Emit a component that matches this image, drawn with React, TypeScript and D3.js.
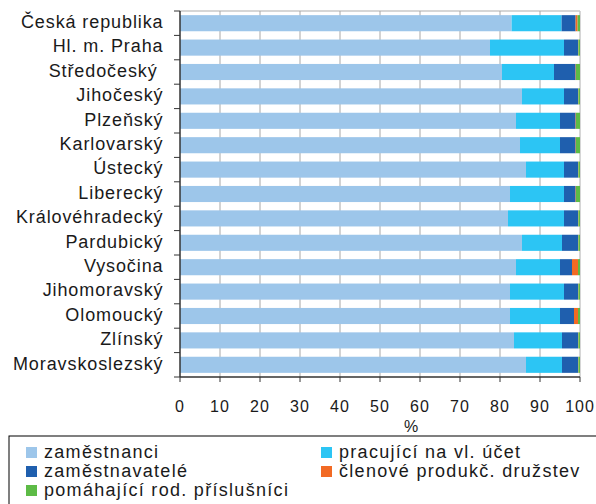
import React from "react";
import * as d3 from "d3";

const categories = [
  "Česká republika", "Hl. m. Praha", "Středočeský ", "Jihočeský", "Plzeňský",
  "Karlovarský", "Ústecký", "Liberecký", "Královéhradecký", "Pardubický",
  "Vysočina", "Jihomoravský", "Olomoucký", "Zlínský", "Moravskoslezský",
];
const seriesNames = [
  "zaměstnanci", "pracující na vl. účet", "zaměstnavatelé",
  "členové produkč. družstev", "pomáhající rod. příslušníci",
];
const zamestnanci = [82.9, 77.5, 80.5, 85.5, 84.0, 85.0, 86.5, 82.5, 82.0, 85.5, 84.0, 82.5, 82.5, 83.5, 86.5];
const pracujici = [12.5, 18.5, 13.0, 10.5, 11.0, 10.0, 9.5, 13.5, 14.0, 10.0, 11.0, 13.5, 12.5, 12.0, 9.0];
const zamestnavatele = [3.5, 3.5, 5.4, 3.5, 3.9, 3.9, 3.5, 2.9, 3.5, 4.0, 3.0, 3.5, 3.5, 4.0, 4.0];
const clenove = [0.5, 0.1, 0.1, 0.1, 0.1, 0.1, 0.1, 0.1, 0.1, 0.1, 1.5, 0.1, 1.0, 0.1, 0.1];
const pomahajici = [0.6, 0.4, 1.0, 0.4, 1.0, 1.0, 0.4, 1.0, 0.4, 0.4, 0.5, 0.4, 0.5, 0.4, 0.4];
const colors = ["#9DC6EA", "#2CC5F4", "#1F5FAE", "#F26A24", "#5DBB46"];
const xTicks = [0, 10, 20, 30, 40, 50, 60, 70, 80, 90, 100];

const FONT = "'Liberation Sans', Arial, Helvetica, sans-serif";

export default function App() {
  const W = 596, H = 504;
  const left = 180, right = 580, top = 11, bottom = 377;
  const x = d3.scaleLinear().domain([0, 100]).range([left, right]);
  const y = d3.scaleBand<string>().domain(categories).range([top, bottom]).paddingInner(0.34).paddingOuter(0.17);
  const yb = d3.scaleBand<string>().domain(categories).range([top, bottom]);
  const series = [zamestnanci, pracujici, zamestnavatele, clenove, pomahajici];
  const rows = categories.map((c, i) => {
    const o: any = { cat: c };
    seriesNames.forEach((s, j) => (o[s] = series[j][i]));
    return o;
  });
  const stacked = d3.stack<any>().keys(seriesNames)(rows);

  const legendItems = [
    { i: 0, x: 26, y: 447 },
    { i: 1, x: 321, y: 447 },
    { i: 2, x: 26, y: 466 },
    { i: 3, x: 321, y: 466 },
    { i: 4, x: 26, y: 485 },
  ];

  return (
    <svg width={W} height={H} style={{ position: "absolute", left: 0, top: 0, background: "#fff" }} fontFamily={FONT}>
      <rect x={0} y={0} width={W} height={H} fill="#fff" />
      {/* frame */}
      <line x1={left} x2={right} y1={top} y2={top} stroke="#C8C8C8" strokeWidth={1.5} />
      <line x1={right} x2={right} y1={top} y2={bottom} stroke="#C8C8C8" strokeWidth={1.5} />
      {/* grid */}
      {xTicks.slice(1, -1).map((t) => (
        <line key={t} x1={x(t)} x2={x(t)} y1={top} y2={bottom} stroke="#A8A8A8" strokeWidth={1} />
      ))}
      {/* bars */}
      {stacked.map((s, j) => (
        <g key={s.key} fill={colors[j]}>
          {s.map((d, i) => (
            <rect key={i} x={x(d[0])} y={y(categories[i])} width={Math.max(0, x(d[1]) - x(d[0]))} height={y.bandwidth()} />
          ))}
        </g>
      ))}
      {/* left axis */}
      <line x1={left} x2={left} y1={top} y2={bottom} stroke="#333" strokeWidth={1.5} />
      {categories.map((c, i) => (
        <line key={"t" + i} x1={left - 6} x2={left} y1={yb(c)} y2={yb(c)} stroke="#333" strokeWidth={1} />
      ))}
      <line x1={left - 6} x2={left} y1={bottom} y2={bottom} stroke="#333" strokeWidth={1} />
      {categories.map((c) => (
        <text key={c} x={163.5} y={(yb(c) as number) + yb.bandwidth() / 2} dy="0.27em" textAnchor="end"
          fontSize={18} letterSpacing={0.9} fill="#1a1a1a" style={{ whiteSpace: "pre" }}>
          {c}
        </text>
      ))}
      {/* bottom axis */}
      <line x1={left} x2={right} y1={bottom} y2={bottom} stroke="#333" strokeWidth={1.5} />
      {xTicks.map((t) => (
        <g key={t}>
          <line x1={x(t)} x2={x(t)} y1={bottom} y2={bottom + 5} stroke="#333" strokeWidth={1} />
          <text x={x(t)} y={412} textAnchor="middle" fontSize={16} letterSpacing={1} fill="#1a1a1a">{t}</text>
        </g>
      ))}
      <text x={411} y={432} textAnchor="middle" fontSize={16} fill="#1a1a1a">%</text>
      {/* legend */}
      <rect x={9} y={436} width={600} height={80} fill="none" stroke="#000" strokeWidth={1} />
      {legendItems.map((it) => (
        <g key={it.i}>
          <rect x={it.x} y={it.y} width={11} height={11} fill={colors[it.i]} />
          <text x={it.x + 18} y={it.y + 11} fontSize={18} letterSpacing={1.3} fill="#1a1a1a">{seriesNames[it.i]}</text>
        </g>
      ))}
    </svg>
  );
}
